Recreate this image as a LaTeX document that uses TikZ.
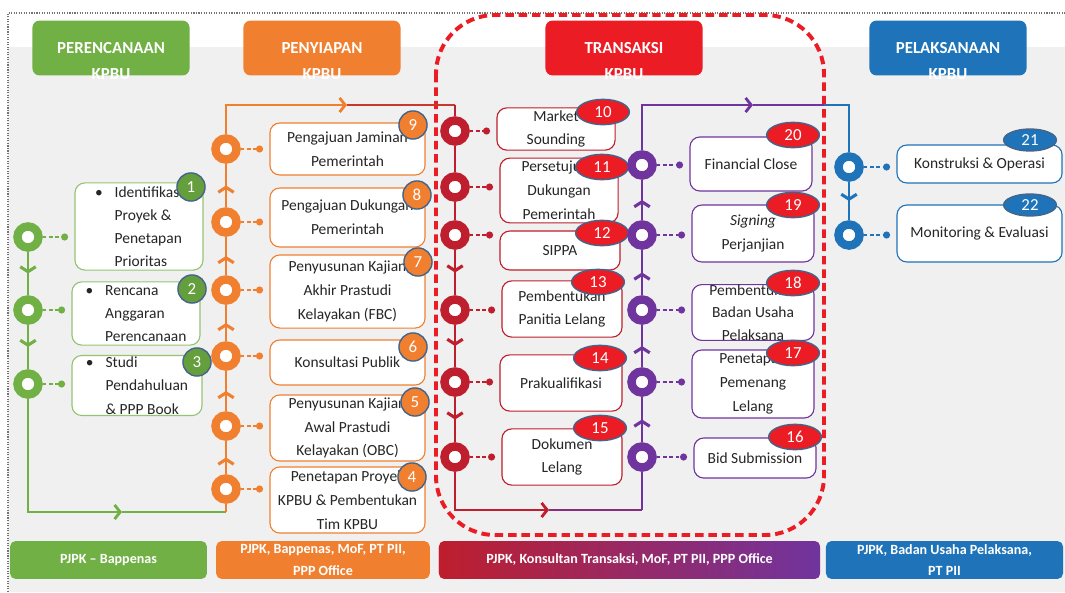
\documentclass[tikz,border=0pt]{standalone}
\usepackage{fontspec}
\setmainfont{Carlito}
\usetikzlibrary{arrows.meta,decorations.markings,shapes.geometric,positioning}

\definecolor{plangreen}{RGB}{112,176,68}
\definecolor{prepor}{RGB}{240,128,48}
\definecolor{transred}{RGB}{236,28,36}
\definecolor{crimson}{RGB}{190,30,45}
\definecolor{execpurple}{RGB}{112,52,158}
\definecolor{execblue}{RGB}{31,115,184}
\definecolor{badgeedge}{RGB}{68,100,138}
\definecolor{txtgray}{RGB}{38,38,38}

\tikzset{
  ring/.style={circle, draw=#1, line width=6pt, fill=white, minimum size=15pt, inner sep=0pt},
  link/.style={draw=#1, line width=1.1pt, dash pattern=on 2.5pt off 2pt,
    -{Circle[length=5pt]}, shorten >=4.5pt},
  flow/.style={draw=#1, line width=2pt},
  chev/.style={postaction={decorate}, decoration={markings,
    mark=at position 0.5 with {\arrow{Straight Barb[length=3.5pt,width=11pt,line width=2.2pt]}}}},
  flowtip/.style={-{Straight Barb[length=4pt,width=10pt,line width=2pt]}},
  stepbox/.style={draw=#1, fill=white, rounded corners=7pt, line width=0.8pt,
    align=center, text=txtgray, inner sep=1pt, font=\fontsize{11}{17}\selectfont},
  bulbox/.style={stepbox=#1, align=left, font=\fontsize{11}{16.5}\selectfont},
  badge/.style={circle, fill=#1, draw=badgeedge, line width=1pt, text=white,
    minimum size=20pt, inner sep=0pt, font=\fontsize{12}{12}\selectfont},
  oval/.style={ellipse, fill=#1, draw=badgeedge, line width=1pt, text=white,
    minimum width=37.5pt, minimum height=18pt, inner sep=0pt, font=\fontsize{12}{12}\selectfont},
  phase/.style={fill=#1, rounded corners=5pt, minimum width=111.7pt, minimum height=39pt,
    text=white, font=\bfseries\fontsize{12}{12}\selectfont},
  phasesub/.style={text=white, anchor=center, yshift=1pt, font=\bfseries\fontsize{12}{12}\selectfont},
  role/.style={fill=#1, rounded corners=4pt, minimum height=27pt, inner sep=0pt,
    text=white, align=center, font=\bfseries\fontsize{10}{15.5}\selectfont},
}
\newcommand{\bul}{\makebox[14pt][l]{\textbullet}}
\newcommand{\ind}{\hspace*{14pt}}

\begin{document}
\begin{tikzpicture}[x=0.025cm, y=-0.025cm]
  \useasboundingbox (0,0) rectangle (1065,592);
  % background
  \fill[black!6] (8,47) rectangle (1065,592);
  \draw[black!55, densely dotted, line width=0.8pt] (8,592) -- (8,13) -- (1065,13);
  % transaction zone
  \draw[transred, line width=2.8pt, dash pattern=on 6pt off 3.5pt, rounded corners=42pt]
    (436,15) rectangle (824,535);

  % phase headers
  \node[phase=plangreen, label={[phasesub]south:KPBU}] (hPlan) at (111,48) {PERENCANAAN};
  \node[phase=prepor, label={[phasesub]south:KPBU}] (hPrep) at (322,48) {PENYIAPAN};
  \node[phase=transred, label={[phasesub]south:KPBU}] (hTrans) at (624,48) {TRANSAKSI};
  \node[phase=execblue, label={[phasesub]south:KPBU}] (hExec) at (948,48) {PELAKSANAAN};

  % roles
  \node[role=plangreen, minimum width=140pt] (rPlan) at (108.5,560) {PJPK -- Bappenas};
  \node[role=prepor, minimum width=152pt] (rPrep) at (323,560) {PJPK, Bappenas, MoF, PT PII,\\PPP Office};
  \node[role=crimson, left color=crimson, right color=execpurple, minimum width=271pt]
    (rTrans) at (629.5,560) {PJPK, Konsultan Transaksi, MoF, PT PII, PPP Office};
  \node[role=execblue, minimum width=168.6pt] (rExec) at (944.5,560) {PJPK, Badan Usaha Pelaksana,\\PT PII};

  % perencanaan
  \node[bulbox=plangreen!75, minimum width=91pt, minimum height=62pt] (s1) at (139,226.5)
    {\bul Identifikasi\\\ind Proyek \&\\\ind Penetapan\\\ind Prioritas};
  \node[bulbox=plangreen!75, minimum width=91pt, minimum height=45pt] (s2) at (136,313.5)
    {\bul Rencana\\\ind Anggaran\\\ind Perencanaan};
  \node[bulbox=plangreen!75, minimum width=92.5pt, minimum height=42pt] (s3) at (137,385.5)
    {\bul Studi\\\ind Pendahuluan\\\ind \& PPP Book};
  \node[badge=plangreen!90!black] (n1) at (191,187) {1};
  \node[badge=plangreen!90!black] (n2) at (192,289) {2};
  \node[badge=plangreen!90!black] (n3) at (197,362) {3};
  \node[ring=plangreen] (g1) at (28,237) {};
  \node[ring=plangreen] (g2) at (28,310) {};
  \node[ring=plangreen] (g3) at (28,384) {};

  % penyiapan
  \node[stepbox=prepor, minimum width=110.3pt, minimum height=37pt] (s9) at (347.5,149)
    {Pengajuan Jaminan\\Pemerintah};
  \node[stepbox=prepor, minimum width=110.3pt, minimum height=42pt] (s8) at (347.5,217.5)
    {Pengajuan Dukungan\\Pemerintah};
  \node[stepbox=prepor, minimum width=110.3pt, minimum height=52pt] (s7) at (347.5,291.5)
    {Penyusunan Kajian\\Akhir Prastudi\\Kelayakan (FBC)};
  \node[stepbox=prepor, minimum width=110.3pt, minimum height=32pt] (s6) at (347.5,362.5)
    {Konsultasi Publik};
  \node[stepbox=prepor, minimum width=110.3pt, minimum height=47pt] (s5) at (347.5,428)
    {Penyusunan Kajian\\Awal Prastudi\\Kelayakan (OBC)};
  \node[stepbox=prepor, minimum width=110.3pt, minimum height=47pt] (s4) at (347.5,500)
    {Penetapan Proyek\\KPBU \& Pembentukan\\Tim KPBU};
  \node[badge=prepor] (n9) at (413,125) {9};
  \node[badge=prepor] (n8) at (417,195) {8};
  \node[badge=prepor] (n7) at (418,262) {7};
  \node[badge=prepor] (n6) at (413,347) {6};
  \node[badge=prepor] (n5) at (415,402) {5};
  \node[badge=prepor] (n4) at (412,477) {4};
  \node[ring=prepor] (o9) at (226,149) {};
  \node[ring=prepor] (o8) at (226,222) {};
  \node[ring=prepor] (o7) at (226,290) {};
  \node[ring=prepor] (o6) at (226,356) {};
  \node[ring=prepor] (o5) at (226,426) {};
  \node[ring=prepor] (o4) at (226,489) {};

  % transaksi
  \node[stepbox=crimson, minimum width=84pt, minimum height=30pt] (s10) at (556,129)
    {Market\\Sounding};
  \node[stepbox=crimson, minimum width=84pt, minimum height=46pt] (s11) at (559,190.5)
    {Persetujuan\\Dukungan\\Pemerintah};
  \node[stepbox=crimson, minimum width=85.4pt, minimum height=27.7pt] (s12) at (560,250.5)
    {SIPPA};
  \node[stepbox=crimson, minimum width=85.4pt, minimum height=40pt] (s13) at (562,309)
    {Pembentukan\\Panitia Lelang};
  \node[stepbox=crimson, minimum width=86.8pt, minimum height=40pt] (s14) at (561,383)
    {Prakualifikasi};
  \node[stepbox=crimson, minimum width=85.4pt, minimum height=40pt] (s15) at (562,457)
    {Dokumen\\Lelang};
  \node[stepbox=execpurple, minimum width=86.8pt, minimum height=38.4pt] (s20) at (751,164)
    {Financial Close};
  \node[stepbox=execpurple, minimum width=86.8pt, minimum height=40.5pt] (s19) at (753,233.5)
    {\textit{Signing}\\Perjanjian};
  \node[stepbox=execpurple, minimum width=86.8pt, minimum height=37.7pt, inner sep=0pt,
    font=\fontsize{11}{16}\selectfont] (s18) at (753,312.5)
    {Pembentukan\\Badan Usaha\\Pelaksana};
  \node[stepbox=execpurple, minimum width=86.8pt, minimum height=48.4pt] (s17) at (753,384)
    {Penetapan\\Pemenang\\Lelang};
  \node[stepbox=execpurple, minimum width=86.8pt, minimum height=28.5pt] (s16) at (755,458)
    {Bid Submission};
  \node[oval=transred] (n10) at (603,112) {10};
  \node[oval=transred] (n11) at (602,167) {11};
  \node[oval=transred] (n12) at (602,233) {12};
  \node[oval=transred] (n13) at (598,282) {13};
  \node[oval=transred] (n14) at (600,358) {14};
  \node[oval=transred] (n15) at (600,428) {15};
  \node[oval=transred] (n20) at (793,135) {20};
  \node[oval=transred] (n19) at (793,205) {19};
  \node[oval=transred] (n18) at (793,283) {18};
  \node[oval=transred] (n17) at (793,353) {17};
  \node[oval=transred] (n16) at (795,437) {16};
  \node[ring=crimson] (r10) at (455,131) {};
  \node[ring=crimson] (r11) at (455,187) {};
  \node[ring=crimson] (r12) at (455,235) {};
  \node[ring=crimson] (r13) at (455,310) {};
  \node[ring=crimson] (r14) at (455,382) {};
  \node[ring=crimson] (r15) at (455,457) {};
  \node[ring=execpurple] (q20) at (642,165) {};
  \node[ring=execpurple] (q19) at (642,235) {};
  \node[ring=execpurple] (q18) at (642,310) {};
  \node[ring=execpurple] (q17) at (642,382) {};
  \node[ring=execpurple] (q16) at (642,457) {};

  % pelaksanaan
  \node[stepbox=execblue, minimum width=117.4pt, minimum height=27pt] (s21) at (979.5,164)
    {Konstruksi \& Operasi};
  \node[stepbox=execblue, minimum width=117.4pt, minimum height=40.5pt] (s22) at (979.5,233.5)
    {Monitoring \& Evaluasi};
  \node[oval=execblue, minimum height=15.6pt] (n21) at (1030,140) {21};
  \node[oval=execblue, minimum height=15.6pt] (n22) at (1030,205) {22};
  \node[ring=execblue] (k21) at (849,167) {};
  \node[ring=execblue] (k22) at (849,235) {};

  % turning points
  \coordinate (gturn) at (28,512);
  \coordinate (gmid) at (122,512);
  \coordinate (obase) at (226,512);
  \coordinate (otop) at (226,105);
  \coordinate (omid) at (347,105);
  \coordinate (rtop) at (455,105);
  \coordinate (rbase) at (455,510);
  \coordinate (bmid) at (549,510);
  \coordinate (pbase) at (642,510);
  \coordinate (ptop) at (642,105);
  \coordinate (pmid) at (753,105);
  \coordinate (pturn) at (824,105);
  \coordinate (btop) at (849,105);

  % flow lines
  \draw[flow=plangreen, chev] (g1) -- (g2);
  \draw[flow=plangreen, chev] (g2) -- (g3);
  \draw[flow=plangreen, flowtip] (g3) -- (gturn) -- (gmid);
  \draw[flow=plangreen] (gmid) -- (obase);
  \draw[flow=prepor] (obase) -- (o4);
  \draw[flow=prepor, chev] (o4) -- (o5);
  \draw[flow=prepor, chev] (o5) -- (o6);
  \draw[flow=prepor, chev] (o6) -- (o7);
  \draw[flow=prepor, chev] (o7) -- (o8);
  \draw[flow=prepor, chev] (o8) -- (o9);
  \draw[flow=prepor, flowtip] (o9) -- (otop) -- (omid);
  \draw[flow=crimson!75!prepor] (omid) -- (rtop);
  \draw[flow=crimson] (rtop) -- (r10);
  \draw[flow=crimson] (r10) -- (r11);
  \draw[flow=crimson] (r11) -- (r12);
  \draw[flow=crimson, chev] (r12) -- (r13);
  \draw[flow=crimson, chev] (r13) -- (r14);
  \draw[flow=crimson, chev] (r14) -- (r15);
  \draw[flow=crimson, flowtip] (r15) -- (rbase) -- (bmid);
  \draw[flow=execpurple!70!crimson] (bmid) -- (pbase);
  \draw[flow=execpurple] (pbase) -- (q16);
  \draw[flow=execpurple, chev] (q16) -- (q17);
  \draw[flow=execpurple, chev] (q17) -- (q18);
  \draw[flow=execpurple, chev] (q18) -- (q19);
  \draw[flow=execpurple, chev] (q19) -- (q20);
  \draw[flow=execpurple, flowtip] (q20) -- (ptop) -- (pmid);
  \draw[flow=execpurple] (pmid) -- (pturn);
  \draw[flow=execblue] (pturn) -- (btop) -- (k21);
  \draw[flow=execblue, chev] (k21) -- (k22);

  % ring to step links
  \foreach \r/\s in {g1/s1, g2/s2, g3/s3}
    \draw[link=plangreen] (\r) -- (\r -| \s.west);
  \foreach \r/\s in {o4/s4, o5/s5, o6/s6, o7/s7, o8/s8, o9/s9}
    \draw[link=prepor] (\r) -- (\r -| \s.west);
  \foreach \r/\s in {r10/s10, r11/s11, r12/s12, r13/s13, r14/s14, r15/s15}
    \draw[link=crimson] (\r) -- (\r -| \s.west);
  \foreach \r/\s in {q16/s16, q17/s17, q18/s18, q19/s19, q20/s20}
    \draw[link=execpurple] (\r) -- (\r -| \s.west);
  \foreach \r/\s in {k21/s21, k22/s22}
    \draw[link=execblue] (\r) -- (\r -| \s.west);
\end{tikzpicture}
\end{document}
